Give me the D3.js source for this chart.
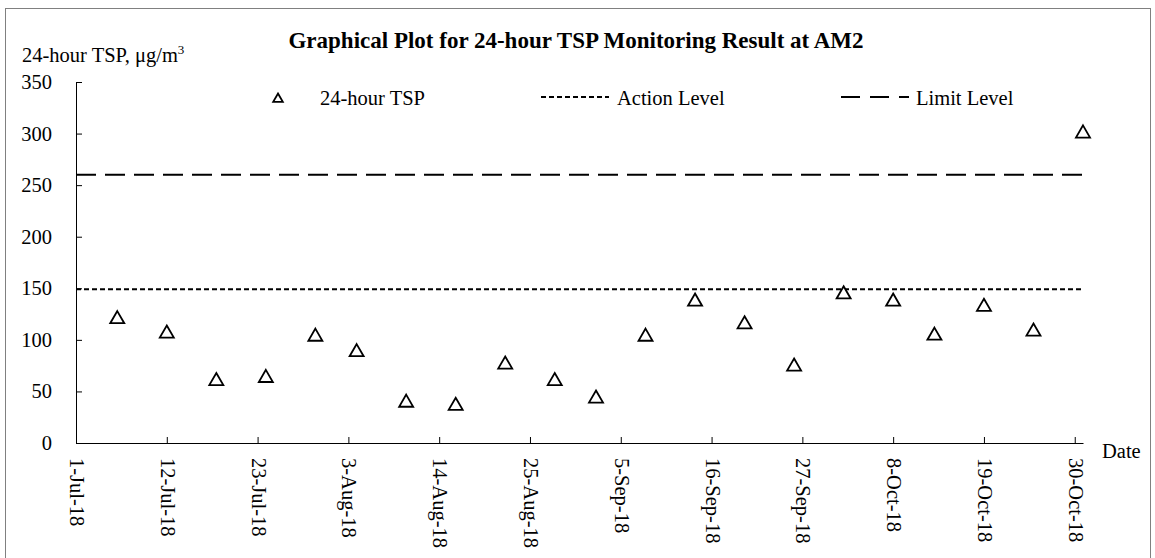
<!DOCTYPE html>
<html><head><meta charset="utf-8">
<script src="https://cdn.jsdelivr.net/npm/d3@7"></script>
<style>body{margin:0;background:#fff}text{font-family:"Liberation Serif","Times New Roman",serif;fill:#000}</style>
</head><body>
<svg id="c" width="1155" height="558"></svg>
<script>
const dates = ["2018-07-06","2018-07-12","2018-07-18","2018-07-24","2018-07-30","2018-08-04","2018-08-10","2018-08-16","2018-08-22","2018-08-28","2018-09-02","2018-09-08","2018-09-14","2018-09-20","2018-09-26","2018-10-02","2018-10-08","2018-10-13","2018-10-19","2018-10-25","2018-10-31"];
const tsp = [122,108,62,65,105,90,41,38,78,62,45,105,139,117,76,146,139,106,134,110,302];
const actionLevel = 149;
const limitLevel = 260;
const yTicks = [0,50,100,150,200,250,300,350];
const xTickDates = ["2018-07-01","2018-07-12","2018-07-23","2018-08-03","2018-08-14","2018-08-25","2018-09-05","2018-09-16","2018-09-27","2018-10-08","2018-10-19","2018-10-30"];
const xDomain = ["2018-07-01","2018-10-31"];

const parse = d3.utcParse("%Y-%m-%d");
const fmt = d3.utcFormat("%-d-%b-%y");
const svg = d3.select("#c");
const L=76, R=1083, T=82, B=443;
const FS = 20.5;
const x = d3.scaleUtc().domain(xDomain.map(parse)).range([L,R]);
const y = d3.scaleLinear().domain([0,350]).range([B,T]);

svg.append("rect").attr("x",5.5).attr("y",8.5).attr("width",1145).attr("height",560).attr("fill","none").attr("stroke","#808080").attr("stroke-width",1);

svg.append("text").attr("x",576).attr("y",48).attr("text-anchor","middle").attr("font-weight","bold").attr("font-size",23).text("Graphical Plot for 24-hour TSP Monitoring Result at AM2");
const yt = svg.append("text").attr("x",22).attr("y",62).attr("font-size",FS);
yt.append("tspan").text("24-hour TSP, μg/m");
yt.append("tspan").attr("font-size",13).attr("dy",-8).text("3");

const ya = svg.append("g").attr("transform",`translate(${L},0)`).call(d3.axisLeft(y).tickValues(yTicks).tickSizeInner(-6).tickSizeOuter(0).tickPadding(24));
ya.selectAll("text").attr("font-size",FS).attr("font-family","Liberation Serif").attr("fill","#000");
ya.selectAll("line,path").attr("stroke","#000");

const xa = svg.append("g").attr("transform",`translate(0,${B})`).call(d3.axisBottom(x).tickValues(xTickDates.map(parse)).tickFormat(fmt).tickSizeInner(-6).tickSizeOuter(0));
xa.selectAll("line,path").attr("stroke","#000");
xa.selectAll("text").attr("font-size",FS).attr("font-family","Liberation Serif").attr("fill","#000")
  .attr("text-anchor","start").attr("transform","rotate(90)").attr("x",15).attr("y",0).attr("dy","0.32em");
svg.append("text").attr("x",1102).attr("y",458).attr("font-size",FS).text("Date");

svg.append("line").attr("x1",x(parse(xDomain[0]))).attr("x2",x(parse(xDomain[1]))).attr("y1",y(limitLevel)).attr("y2",y(limitLevel)).attr("stroke","#000").attr("stroke-width",2).attr("stroke-dasharray","20,9");
svg.append("line").attr("x1",x(parse(xDomain[0]))).attr("x2",x(parse(xDomain[1]))).attr("y1",y(actionLevel)).attr("y2",y(actionLevel)).attr("stroke","#000").attr("stroke-width",2).attr("stroke-dasharray","5,3");

const tri = d3.symbol().type(d3.symbolTriangle).size(85);
svg.selectAll(".pt").data(dates.map((d,i)=>({d:parse(d),v:tsp[i]}))).join("path").attr("class","pt")
  .attr("d",tri).attr("transform",d=>`translate(${x(d.d)},${y(d.v)+2})`).attr("fill","#fff").attr("stroke","#000").attr("stroke-width",1.8);

// legend
svg.append("path").attr("d",d3.symbol().type(d3.symbolTriangle).size(40)).attr("transform","translate(278,99)").attr("fill","#fff").attr("stroke","#000").attr("stroke-width",1.8);
svg.append("text").attr("x",320).attr("y",105).attr("font-size",FS).text("24-hour TSP");
svg.append("line").attr("x1",541).attr("x2",609).attr("y1",97).attr("y2",97).attr("stroke","#000").attr("stroke-width",2).attr("stroke-dasharray","5,3");
svg.append("text").attr("x",617).attr("y",105).attr("font-size",FS).text("Action Level");
svg.append("line").attr("x1",841).attr("x2",909).attr("y1",97).attr("y2",97).attr("stroke","#000").attr("stroke-width",2).attr("stroke-dasharray","19,10");
svg.append("text").attr("x",916).attr("y",105).attr("font-size",FS).text("Limit Level");
</script>
</body></html>
